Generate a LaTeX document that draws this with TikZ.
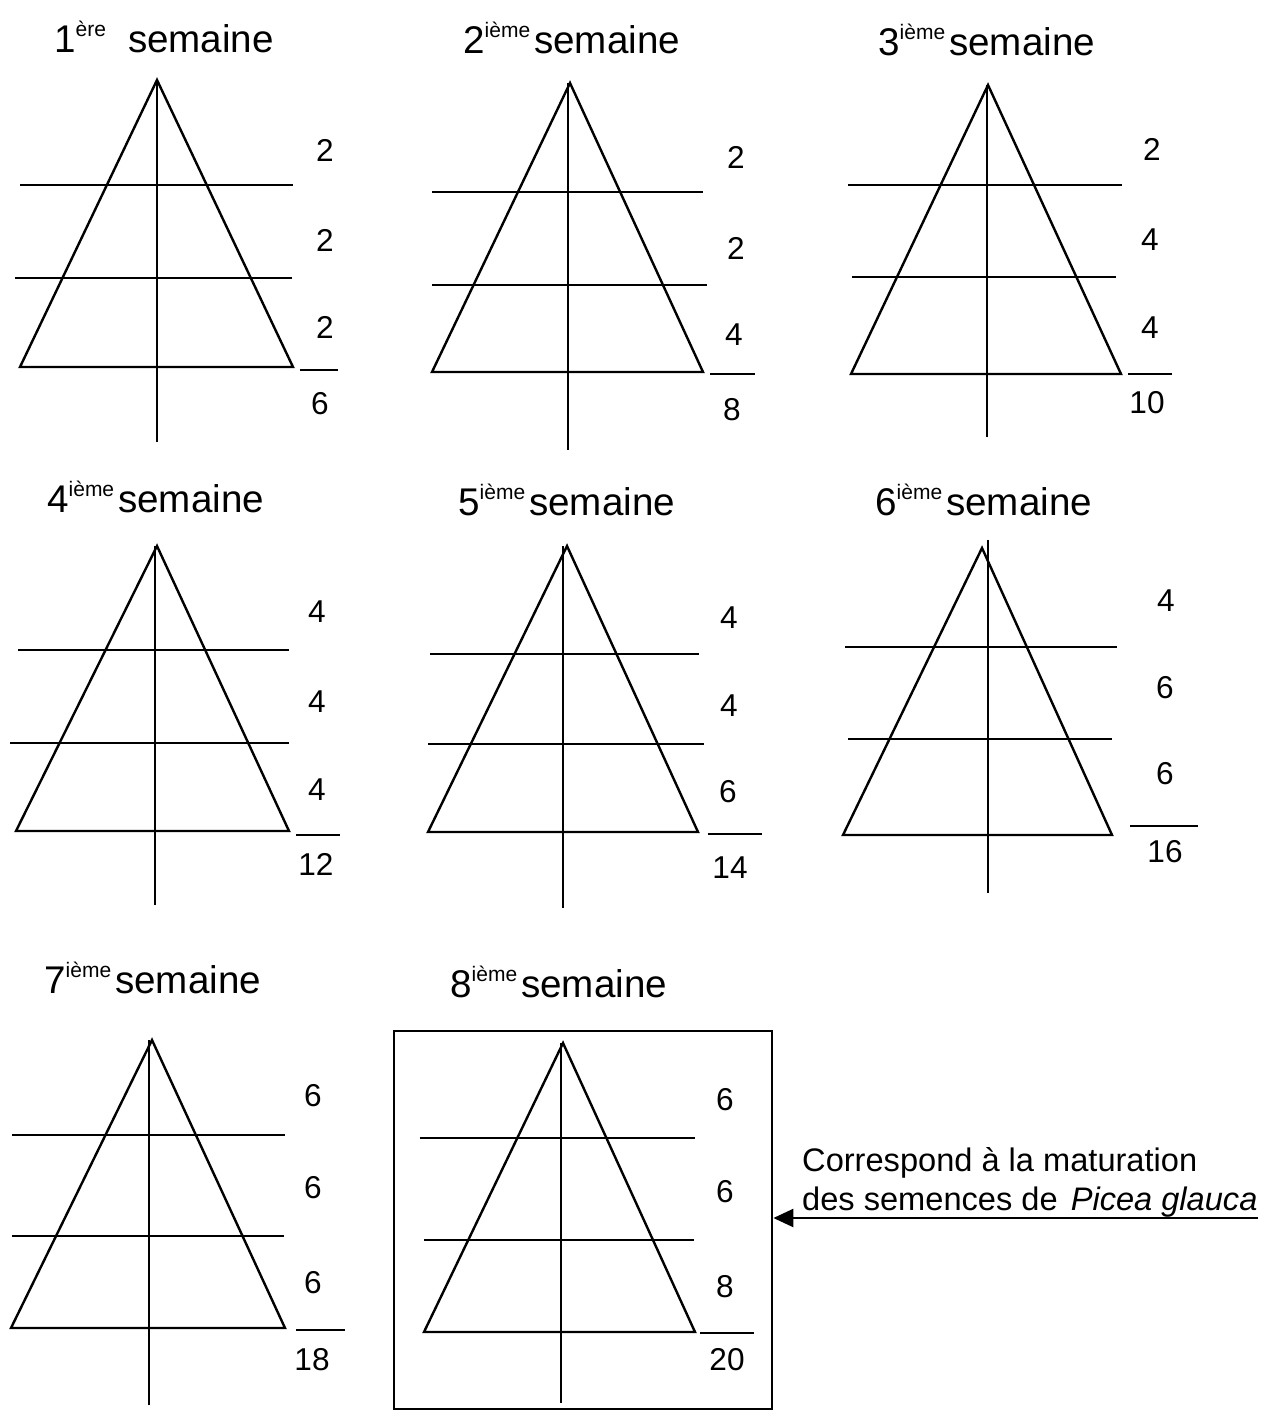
\documentclass[tikz,border=0pt]{standalone}
\usepackage{fontspec}
\setmainfont{Liberation Sans}
\usetikzlibrary{arrows.meta}
\newcommand\expo[1]{\raisebox{0.78ex}{\fontsize{10.5}{10}\selectfont #1}}
\begin{document}
\begin{tikzpicture}[x=0.5pt,y=-0.5pt,line width=1.2pt,
  ttl/.style={anchor=west,inner sep=0pt,font=\fontsize{19.3}{20}\selectfont},
  num/.style={inner sep=0pt,font=\fontsize{15.8}{16}\selectfont},
  note/.style={anchor=west,inner sep=0pt,font=\fontsize{16.3}{18}\selectfont}]
\useasboundingbox (0,0) rectangle (1264,1412);

% ---------- Panel 1 ----------
\node[ttl] (t1) at (53,37) {1\expo{ère}\hspace{11pt}semaine};
\coordinate (a1) at (157,80); \coordinate (l1) at (20,367); \coordinate (r1) at (293,367);
\draw (l1) -- (a1) -- (r1) -- cycle;
\coordinate (v1) at (157,442); \draw (a1) -- (v1);
\coordinate (h1a) at (20,185); \coordinate (h1b) at (293,185); \draw (h1a) -- (h1b);
\coordinate (h1c) at (15,278); \coordinate (h1d) at (292,278); \draw (h1c) -- (h1d);
\coordinate (s1a) at (300,370); \coordinate (s1b) at (338,370); \draw (s1a) -- (s1b);
\node[num] (n1a) at (325,150) {2};
\node[num] (n1b) at (325,240) {2};
\node[num] (n1c) at (325,327) {2};
\node[num] (n1s) at (320,404) {6};

% ---------- Panel 2 ----------
\node[ttl] (t2) at (462,38) {2\expo{ième}\hspace{2pt}semaine};
\coordinate (a2) at (570,83); \coordinate (l2) at (432,372); \coordinate (r2) at (703,372);
\draw (l2) -- (a2) -- (r2) -- cycle;
\coordinate (v2t) at (568,83); \coordinate (v2) at (568,450); \draw (v2t) -- (v2);
\coordinate (h2a) at (432,192); \coordinate (h2b) at (703,192); \draw (h2a) -- (h2b);
\coordinate (h2c) at (432,285); \coordinate (h2d) at (707,285); \draw (h2c) -- (h2d);
\coordinate (s2a) at (710,374); \coordinate (s2b) at (755,374); \draw (s2a) -- (s2b);
\node[num] (n2a) at (736,157) {2};
\node[num] (n2b) at (736,248) {2};
\node[num] (n2c) at (734,335) {4};
\node[num] (n2s) at (732,410) {8};

% ---------- Panel 3 ----------
\node[ttl] (t3) at (877,40) {3\expo{ième}\hspace{2pt}semaine};
\coordinate (a3) at (988,85); \coordinate (l3) at (851,374); \coordinate (r3) at (1121,374);
\draw (l3) -- (a3) -- (r3) -- cycle;
\coordinate (v3t) at (987,85); \coordinate (v3) at (987,437); \draw (v3t) -- (v3);
\coordinate (h3a) at (848,185); \coordinate (h3b) at (1122,185); \draw (h3a) -- (h3b);
\coordinate (h3c) at (852,277); \coordinate (h3d) at (1116,277); \draw (h3c) -- (h3d);
\coordinate (s3a) at (1128,374); \coordinate (s3b) at (1172,374); \draw (s3a) -- (s3b);
\node[num] (n3a) at (1152,149) {2};
\node[num] (n3b) at (1150,240) {4};
\node[num] (n3c) at (1150,328) {4};
\node[num] (n3s) at (1147,403) {10};

% ---------- Panel 4 ----------
\node[ttl] (t4) at (46,497) {4\expo{ième}\hspace{2pt}semaine};
\coordinate (a4) at (157,546); \coordinate (l4) at (16,831); \coordinate (r4) at (289,831);
\draw (l4) -- (a4) -- (r4) -- cycle;
\coordinate (v4t) at (155,546); \coordinate (v4) at (155,905); \draw (v4t) -- (v4);
\coordinate (h4a) at (18,650); \coordinate (h4b) at (289,650); \draw (h4a) -- (h4b);
\coordinate (h4c) at (10,743); \coordinate (h4d) at (289,743); \draw (h4c) -- (h4d);
\coordinate (s4a) at (296,835); \coordinate (s4b) at (340,835); \draw (s4a) -- (s4b);
\node[num] (n4a) at (317,612) {4};
\node[num] (n4b) at (317,702) {4};
\node[num] (n4c) at (317,790) {4};
\node[num] (n4s) at (316,864) {12};

% ---------- Panel 5 ----------
\node[ttl] (t5) at (457,500) {5\expo{ième}\hspace{2pt}semaine};
\coordinate (a5) at (567,546); \coordinate (l5) at (428,832); \coordinate (r5) at (698,832);
\draw (l5) -- (a5) -- (r5) -- cycle;
\coordinate (v5t) at (563,546); \coordinate (v5) at (563,908); \draw (v5t) -- (v5);
\coordinate (h5a) at (430,654); \coordinate (h5b) at (699,654); \draw (h5a) -- (h5b);
\coordinate (h5c) at (428,744); \coordinate (h5d) at (704,744); \draw (h5c) -- (h5d);
\coordinate (s5a) at (708,834); \coordinate (s5b) at (762,834); \draw (s5a) -- (s5b);
\node[num] (n5a) at (729,618) {4};
\node[num] (n5b) at (729,706) {4};
\node[num] (n5c) at (728,792) {6};
\node[num] (n5s) at (730,868) {14};

% ---------- Panel 6 ----------
\node[ttl] (t6) at (874,500) {6\expo{ième}\hspace{2pt}semaine};
\coordinate (a6) at (982,548); \coordinate (l6) at (843,835); \coordinate (r6) at (1112,835);
\draw (l6) -- (a6) -- (r6) -- cycle;
\coordinate (v6t) at (988,540); \coordinate (v6) at (988,893); \draw (v6t) -- (v6);
\coordinate (h6a) at (845,647); \coordinate (h6b) at (1117,647); \draw (h6a) -- (h6b);
\coordinate (h6c) at (848,739); \coordinate (h6d) at (1112,739); \draw (h6c) -- (h6d);
\coordinate (s6a) at (1130,826); \coordinate (s6b) at (1198,826); \draw (s6a) -- (s6b);
\node[num] (n6a) at (1166,601) {4};
\node[num] (n6b) at (1165,688) {6};
\node[num] (n6c) at (1165,774) {6};
\node[num] (n6s) at (1165,852) {16};

% ---------- Panel 7 ----------
\node[ttl] (t7) at (43,978) {7\expo{ième}\hspace{2pt}semaine};
\coordinate (a7) at (152,1040); \coordinate (l7) at (11,1328); \coordinate (r7) at (285,1328);
\draw (l7) -- (a7) -- (r7) -- cycle;
\coordinate (v7t) at (149,1040); \coordinate (v7) at (149,1405); \draw (v7t) -- (v7);
\coordinate (h7a) at (12,1135); \coordinate (h7b) at (285,1135); \draw (h7a) -- (h7b);
\coordinate (h7c) at (12,1236); \coordinate (h7d) at (284,1236); \draw (h7c) -- (h7d);
\coordinate (s7a) at (296,1330); \coordinate (s7b) at (345,1330); \draw (s7a) -- (s7b);
\node[num] (n7a) at (313,1096) {6};
\node[num] (n7b) at (313,1188) {6};
\node[num] (n7c) at (313,1283) {6};
\node[num] (n7s) at (312,1360) {18};

% ---------- Panel 8 ----------
\node[ttl] (t8) at (449,982) {8\expo{ième}\hspace{2pt}semaine};
\node[draw,line width=1.2pt,inner sep=0pt,minimum width=189pt,minimum height=189pt,anchor=north west] (box8) at (393,1030) {};
\coordinate (a8) at (563,1043); \coordinate (l8) at (424,1332); \coordinate (r8) at (695,1332);
\draw (l8) -- (a8) -- (r8) -- cycle;
\coordinate (v8t) at (561,1043); \coordinate (v8) at (561,1403); \draw (v8t) -- (v8);
\coordinate (h8a) at (420,1138); \coordinate (h8b) at (695,1138); \draw (h8a) -- (h8b);
\coordinate (h8c) at (424,1240); \coordinate (h8d) at (694,1240); \draw (h8c) -- (h8d);
\coordinate (s8a) at (700,1333); \coordinate (s8b) at (754,1333); \draw (s8a) -- (s8b);
\node[num] (n8a) at (725,1100) {6};
\node[num] (n8b) at (725,1192) {6};
\node[num] (n8c) at (725,1287) {8};
\node[num] (n8s) at (727,1360) {20};

% ---------- Annotation ----------
\node[note] (c1) at (801,1163) {Correspond à la maturation};
\node[note] (c2) at (801,1202) {des semences de \hspace{2pt}\textit{Picea glauca}};
\coordinate (arrS) at (1258,1218);
\draw[-{Triangle[length=10pt,width=9pt]}] (arrS) -- (box8.east |- arrS);
\end{tikzpicture}
\end{document}
